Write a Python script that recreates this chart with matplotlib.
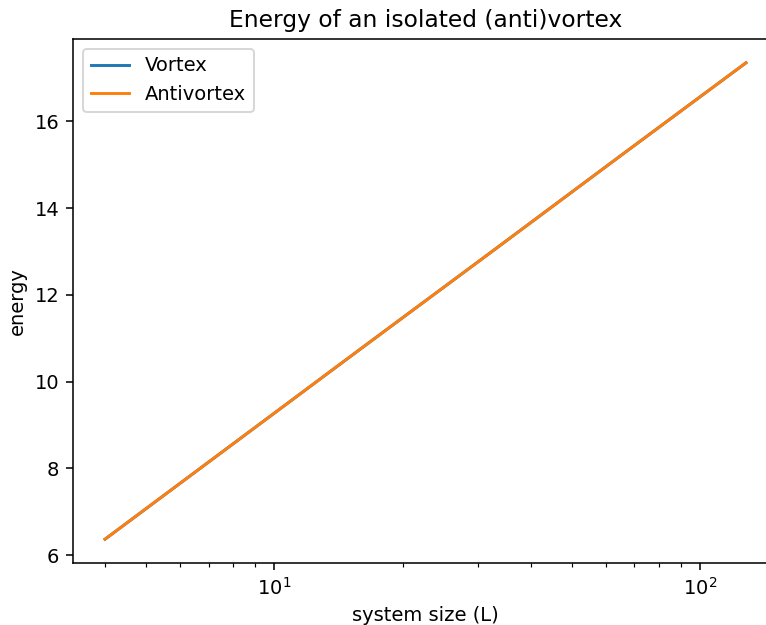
import numpy as np
import matplotlib.pyplot as plt

# system sizes and energies
L = [4, 8, 16, 32, 64, 128]
vortex = [6.37, 8.57, 10.77, 12.96, 15.16, 17.35]
antivortex = [6.37, 8.57, 10.77, 12.96, 15.16, 17.35]

dpi = 140
fig = plt.figure(figsize=(766 / dpi, 625 / dpi), dpi=dpi)
# the reference is cut off on the right, so the axes run past the figure edge
ax = fig.add_axes([73 / 766, 1 - 563 / 625, 705 / 766, 524 / 625])
ax.plot(L, vortex, label='Vortex')
ax.plot(L, antivortex, label='Antivortex')
ax.set_xscale('log')
ax.set_xlabel('system size (L)')
ax.set_ylabel('energy')
ax.set_title('Energy of an isolated (anti)vortex')
ax.legend(loc='upper left')
fig.savefig('out.png', dpi=dpi)
